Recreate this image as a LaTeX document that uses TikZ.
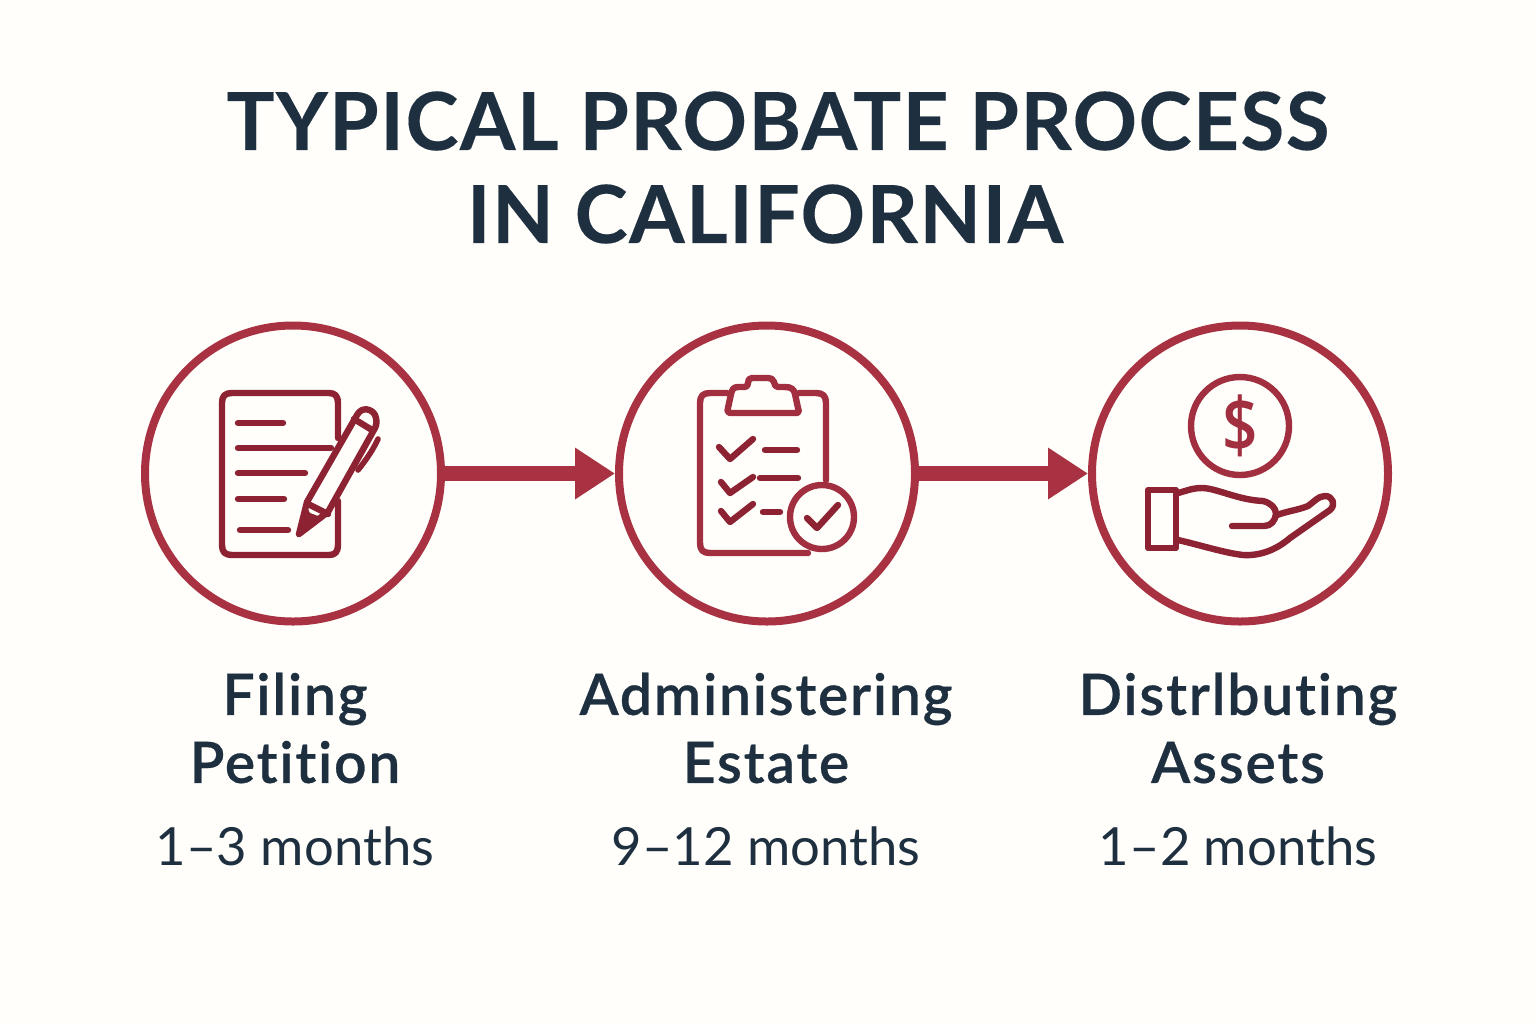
\documentclass[tikz,border=0pt]{standalone}
\usepackage{fontspec}
\setmainfont[Ligatures=NoCommon]{Lato}
\newfontfamily\titlef[LetterSpace=1.8,Ligatures=NoCommon,FakeBold=0.2]{Lato Bold}
\newfontfamily\stepf[LetterSpace=3.2,Ligatures=NoCommon,FakeBold=0.5]{Lato Semibold}
\newfontfamily\dollarf{Open Sans Semibold}
\usetikzlibrary{arrows.meta}
\definecolor{bgc}{HTML}{FFFEFB}
\definecolor{ink}{HTML}{1E3040}
\definecolor{ring}{HTML}{A83242}
\definecolor{icona}{HTML}{8C2232}
\definecolor{iconb}{HTML}{A12F40}
\tikzset{
 ringnode/.style={circle,draw=ring,line width=4pt,minimum size=148pt,inner sep=0pt,fill=none},
 flow/.style={draw=ring,line width=7.5pt,-{Triangle[length=20pt,width=24.5pt]}},
 titletext/.style={text=ink,font=\fontsize{40}{47}\titlef},
 steptext/.style={text=ink,font=\fontsize{28.5}{34}\stepf,align=center},
 timetext/.style={text=ink,font=\fontsize{26.3}{32}\selectfont,align=center},
 ic/.style={line width=3.2pt,line cap=round,line join=round,draw=#1},
 ic/.default=icona,
}
\begin{document}
\begin{tikzpicture}[x=0.5pt,y=-0.5pt]
\fill[bgc] (0,0) rectangle (1536,1024);
\useasboundingbox (0,0) rectangle (1536,1024);
\node[titletext] (title1) at (778,121) {TYPICAL PROBATE PROCESS};
\node[titletext] (title2) at (765,214) {IN CALIFORNIA};
\node[ringnode] (c1) at (293,473.5) {};
\node[ringnode] (c2) at (767,473.5) {};
\node[ringnode] (c3) at (1240,473.5) {};
\draw[flow] (c1) -- (c2);
\draw[flow] (c2) -- (c3);
% document icon
\draw[ic] (338,438) -- (338,403) .. controls (338,396) and (335,393) .. (329,393) -- (232,393) .. controls (225,393) and (222,396) .. (222,403) -- (222,545) .. controls (222,552) and (225,555) .. (232,555) -- (329,555) .. controls (335,555) and (338,552) .. (338,545) -- (338,501);
\foreach \xa/\xb/\yy in {238/283/423,238/331/448,238/305/473,238/284/499,240/288/530}
  \draw[ic] (\xa,\yy) -- (\xb,\yy);
\draw[ic] (307,502) -- (357,415) .. controls (362,406) and (372,409) .. (375,415) .. controls (377,420) and (377,424) .. (375,428) -- (328,512) -- (299,534) -- cycle;
\draw[ic] (310,505) -- (328,514);
\draw[ic] (354,419) -- (372,430);
\fill[icona] (297,537) -- (306,505) -- (310,513) -- (318,516) -- cycle;
\draw[ic,line width=2.8pt] (378,439) .. controls (373,450) and (366,460) .. (358,470);
% clipboard icon
\draw[ic=iconb] (826,480) -- (826,403) .. controls (826,396) and (823,393) .. (816,393) -- (799,393);
\draw[ic=iconb] (727,393) -- (710,393) .. controls (703,393) and (700,396) .. (700,403) -- (700,543) .. controls (700,550) and (703,553) .. (710,553) -- (808,553);
\draw[ic=iconb] (730,413) -- (797,413) .. controls (799,413) and (799,411) .. (798,408) -- (795,394) .. controls (794,389) and (791,387) .. (785,387) -- (778,387) .. controls (775,387) and (775,385) .. (774,382) .. controls (773,379) and (771,378) .. (768,378) -- (752,378) .. controls (749,378) and (748,380) .. (748,383) .. controls (748,386) and (747,387) .. (744,387) -- (738,387) .. controls (733,387) and (732,390) .. (731,394) -- (728,408) .. controls (727,411) and (728,413) .. (730,413) -- cycle;
\draw[ic=icona] (719,447) -- (730,459) -- (753,439);
\draw[ic=icona] (721,482) -- (730,493) -- (753,477);
\draw[ic=icona] (721,511) -- (730,522) -- (753,504);
\draw[ic=icona] (765,450) -- (797,450);
\draw[ic=icona] (760,478) -- (798,478);
\draw[ic=icona] (763,512) -- (780,512);
\draw[ic=iconb,fill=bgc] (822,517) circle (32);
\draw[ic=icona] (807,518) -- (817,528) -- (838,505);
% hand icon
\draw[ic=iconb] (1240,426) circle (49);
\node[text=iconb,font=\fontsize{38}{38}\dollarf,xscale=0.82] (dollar) at (1240,426) {\$};
\draw[ic] (1148,490) rectangle (1176,548);
\draw[ic] (1178,493) .. controls (1186,491) and (1192,488) .. (1202,488) .. controls (1216,488) and (1238,500) .. (1263,501) .. controls (1271,503) and (1276,508) .. (1276,514) .. controls (1275,521) and (1271,526) .. (1264,526) -- (1232,526);
\draw[ic] (1277,515) .. controls (1288,511) and (1298,510) .. (1308,506) .. controls (1314,502) and (1318,496) .. (1325,496) .. controls (1333,496) and (1336,505) .. (1330,510) -- (1290,538) .. controls (1276,550) and (1260,556) .. (1243,555) .. controls (1225,553) and (1200,545) .. (1178,540);
% labels
\node[steptext] (s1) at (295,728) {Filing\\Petition};
\node[steptext] (s2) at (766,728) {Administering\\Estate};
\node[steptext] (s3) at (1238,728) {Distrlbuting\\Assets};
\node[timetext] (t1) at (295,846) {1–3 months};
\node[timetext] (t2) at (766,846) {9–12 months};
\node[timetext] (t3) at (1238,846) {1–2 months};
\end{tikzpicture}
\end{document}
